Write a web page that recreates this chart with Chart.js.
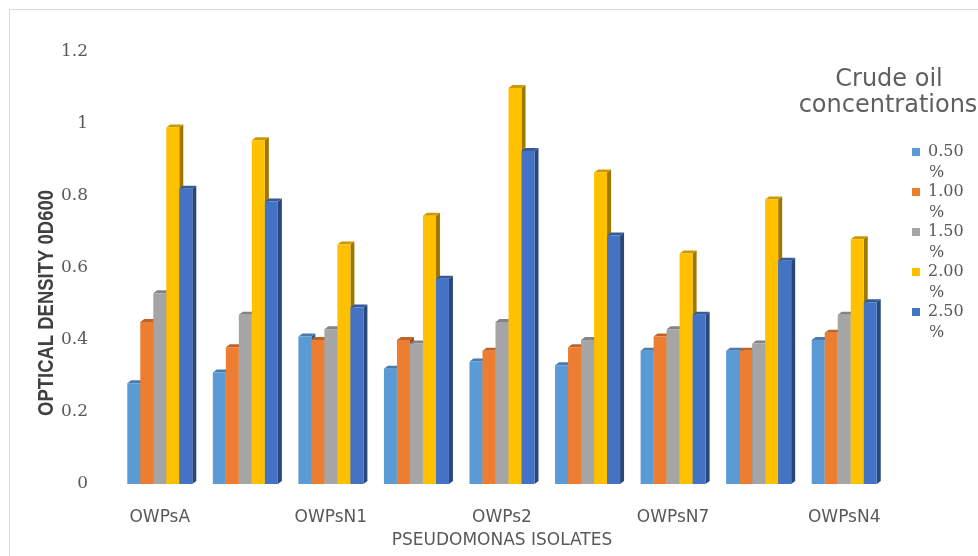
<!DOCTYPE html>
<html>
<head>
<meta charset="utf-8">
<title>Pseudomonas isolates – optical density</title>
<script src="https://cdn.jsdelivr.net/npm/chart.js@4.4.1/dist/chart.umd.min.js"></script>
<style>
  html, body { margin: 0; padding: 0; background: #ffffff; }
  canvas { display: block; }
</style>
</head>
<body>
<canvas id="chart" width="978" height="556"></canvas>
<script>
// Isolates on the category axis (only every other name is printed)
const categories = ['OWPsA', 'OWPsB', 'OWPsN1', 'OWPsN2', 'OWPs2', 'OWPs3', 'OWPsN7', 'OWPsN8', 'OWPsN4'];

// Crude oil concentrations (legend entries)
const seriesLabels = ['0.50 %', '1.00 %', '1.50 %', '2.00 %', '2.50 %'];
const seriesColors = ['#5B9BD5', '#ED7D31', '#A5A5A5', '#FFC000', '#4472C4'];

// Optical density OD600 per isolate, one array per concentration
const od050 = [0.28, 0.31, 0.41, 0.32, 0.34, 0.33, 0.37, 0.37, 0.40];
const od100 = [0.45, 0.38, 0.40, 0.40, 0.37, 0.38, 0.41, 0.37, 0.42];
const od150 = [0.53, 0.47, 0.43, 0.39, 0.45, 0.40, 0.43, 0.39, 0.47];
const od200 = [0.99, 0.955, 0.665, 0.745, 1.10, 0.865, 0.64, 0.79, 0.68];
const od250 = [0.82, 0.785, 0.49, 0.57, 0.925, 0.69, 0.47, 0.62, 0.505];

const yTickLabels = ['0', '0.2', '0.4', '0.6', '0.8', '1', '1.2'];

const legendTitle = ['Crude oil', 'concentrations'];
const yTitle = 'OPTICAL DENSITY 0D600';
const xTitle = 'PSEUDOMONAS ISOLATES';

const seriesValues = [od050, od100, od150, od200, od250];

function shade(hex, f) {
  const n = parseInt(hex.slice(1), 16);
  const r = Math.round(((n >> 16) & 255) * f);
  const g = Math.round(((n >> 8) & 255) * f);
  const b = Math.round((n & 255) * f);
  return `rgb(${r},${g},${b})`;
}

// White background and the thin frame around the chart
const framePlugin = {
  id: 'frame',
  beforeDraw(chart) {
    const ctx = chart.ctx;
    ctx.save();
    ctx.fillStyle = '#ffffff';
    ctx.fillRect(0, 0, chart.width, chart.height);
    ctx.strokeStyle = '#d9d9d9';
    ctx.lineWidth = 1;
    ctx.strokeRect(9.5, 9.5, chart.width + 10, chart.height + 10);
    ctx.restore();
  }
};

// Draws the bars series by series with a small extruded side and top,
// so each bar's side is hidden behind its right-hand neighbour.
const bars3dPlugin = {
  id: 'bars3d',
  beforeDatasetsDraw(chart) {
    const ctx = chart.ctx;
    const dx = 4, dy = 3;
    chart.data.datasets.forEach((ds, i) => {
      const meta = chart.getDatasetMeta(i);
      if (meta.hidden) return;
      meta.data.forEach((el) => {
        const {x, y, width, base} = el.getProps(['x', 'y', 'width', 'base'], true);
        const l = x - width / 2, r = x + width / 2;
        ctx.save();
        // side face
        ctx.fillStyle = shade(ds.backgroundColor, 0.62);
        ctx.beginPath();
        ctx.moveTo(r, y);
        ctx.lineTo(r + dx, y - dy);
        ctx.lineTo(r + dx, base - dy);
        ctx.lineTo(r, base);
        ctx.closePath();
        ctx.fill();
        // top face
        ctx.fillStyle = shade(ds.backgroundColor, 0.8);
        ctx.beginPath();
        ctx.moveTo(l, y);
        ctx.lineTo(l + dx, y - dy);
        ctx.lineTo(r + dx, y - dy);
        ctx.lineTo(r, y);
        ctx.closePath();
        ctx.fill();
        ctx.restore();
        el.draw(ctx, chart.chartArea);
      });
    });
    return false;
  }
};

// Vertical axis title placed beside the tick labels (narrowed bold face)
const yTitlePlugin = {
  id: 'yTitle',
  afterDraw(chart) {
    const ctx = chart.ctx;
    ctx.save();
    ctx.translate(47, 303);
    ctx.rotate(-Math.PI / 2);
    ctx.scale(0.84, 1);
    ctx.font = "bold 22px 'Liberation Sans', sans-serif";
    ctx.fillStyle = '#404040';
    ctx.textAlign = 'center';
    ctx.textBaseline = 'middle';
    ctx.fillText(yTitle, 0, 0);
    ctx.restore();
  }
};

// Legend on the right: title, colour squares and wrapped labels
const sideLegendPlugin = {
  id: 'sideLegend',
  afterDraw(chart) {
    const ctx = chart.ctx;
    ctx.save();
    ctx.fillStyle = '#5f5f5f';
    ctx.font = "24px 'DejaVu Sans', sans-serif";
    ctx.textAlign = 'center';
    ctx.textBaseline = 'alphabetic';
    ctx.fillText(legendTitle[0], 889, 86);
    ctx.fillText(legendTitle[1], 888, 112);

    ctx.font = "16px 'DejaVu Serif', serif";
    ctx.textAlign = 'left';
    ctx.textBaseline = 'middle';
    chart.data.datasets.forEach((ds, i) => {
      const cy = 152 + i * 40;
      ctx.fillStyle = ds.backgroundColor;
      ctx.fillRect(912, cy - 4, 8, 8);
      ctx.fillStyle = '#595959';
      const parts = ds.label.split(' ');
      ctx.fillText(parts[0], 928, cy);
      ctx.fillText(parts[1], 929, cy + 21);
    });
    ctx.restore();
  }
};

new Chart(document.getElementById('chart'), {
  type: 'bar',
  data: {
    labels: categories,
    datasets: seriesValues.map((vals, i) => ({
      label: seriesLabels[i],
      data: vals,
      backgroundColor: seriesColors[i],
      borderWidth: 0,
      barPercentage: 1,
      categoryPercentage: 0.76
    }))
  },
  options: {
    responsive: false,
    animation: false,
    devicePixelRatio: 1,
    layout: { padding: { top: 52, right: 91, left: 2, bottom: 0 } },
    plugins: {
      legend: { display: false },
      tooltip: { enabled: false }
    },
    scales: {
      x: {
        grid: { display: false },
        border: { display: false },
        ticks: {
          autoSkip: false,
          maxRotation: 0,
          padding: 15,
          color: '#595959',
          font: { family: "'DejaVu Sans', sans-serif", size: 17 },
          callback: (v, i) => (i % 2 === 0 ? categories[i] : '')
        },
        title: {
          display: true,
          text: xTitle,
          color: '#595959',
          font: { family: "'DejaVu Sans', sans-serif", size: 17 },
          padding: { top: 0, bottom: 5 }
        },
        afterFit: (s) => { s.height = 72; }
      },
      y: {
        min: 0,
        max: 1.2,
        grid: { display: false },
        border: { display: false },
        ticks: {
          stepSize: 0.2,
          padding: 21,
          color: '#595959',
          font: { family: "'DejaVu Serif', serif", size: 17 },
          callback: (v, i) => yTickLabels[i]
        },
        afterFit: (s) => { s.width = 115; }
      }
    }
  },
  plugins: [framePlugin, bars3dPlugin, yTitlePlugin, sideLegendPlugin]
});
</script>
</body>
</html>
